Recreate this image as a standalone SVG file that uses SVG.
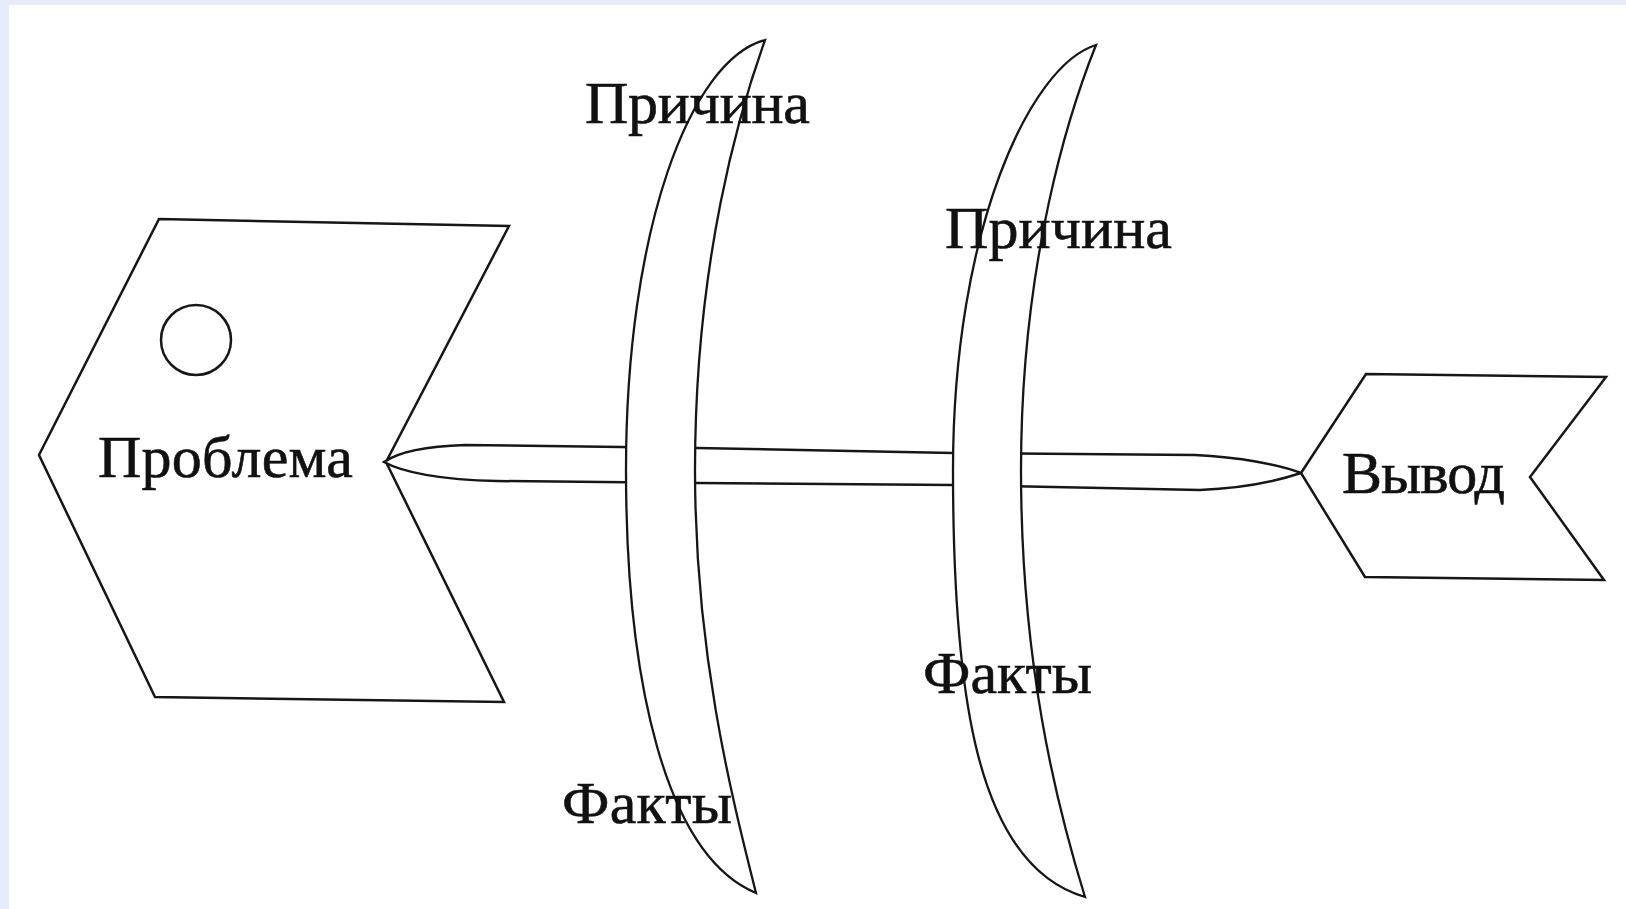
<svg xmlns="http://www.w3.org/2000/svg" width="1626" height="909" viewBox="0 0 1626 909">
<style>
.shape{fill:#ffffff;stroke:#161616;stroke-width:2.5;stroke-linejoin:miter}
.bone{fill:#ffffff;stroke:#161616;stroke-width:2.3}
.lbl{font-family:"Liberation Serif","Times New Roman",serif;font-size:60px;fill:#111111;stroke:#111111;stroke-width:0.6}
</style>
<rect x="0" y="0" width="1626" height="909" fill="#e4edf7"/>
<rect x="9" y="5" width="1617" height="904" fill="#ffffff"/>
<g id="problem">
<polygon class="shape" points="159,219 509,226 386,462 504,702 155,697 39,455"/>
<circle class="shape" cx="196" cy="340" r="35"/>
<text class="lbl" x="98" y="477" textLength="255">Проблема</text>
</g>
<g id="connectors">
<path id="spine" class="shape" d="M384,462 C400,451 430,446 465,445 L697,448 L953,453 L1195,455 C1240,457 1280,465 1301,473 C1280,480 1250,488 1200,490 L953,485 L697,483 L497,481 C440,480 402,472 384,462 Z"/>
</g>
<g id="cause1">
<path class="bone" d="M765,40 C690,60 626,230 626,470 C626,680 665,855 756,893 C730,790 695,650 695,470 C695,260 740,110 765,40 Z"/>
<text class="lbl" x="585" y="123" textLength="225">Причина</text>
<text class="lbl" x="562" y="823" textLength="170">Факты</text>
</g>
<g id="cause2">
<path class="bone" d="M1096,45 C1030,65 953,230 953,470 C953,690 975,865 1085,897 C1055,800 1021,660 1021,470 C1021,260 1070,110 1096,45 Z"/>
<text class="lbl" x="945" y="248" textLength="227">Причина</text>
<text class="lbl" x="923" y="693" textLength="169">Факты</text>
</g>
<g id="conclusion">
<polygon class="shape" points="1301,473 1366,374 1606,377 1530,477 1604,580 1365,577"/>
<text class="lbl" x="1342" y="493" textLength="163">Вывод</text>
</g>
</svg>
